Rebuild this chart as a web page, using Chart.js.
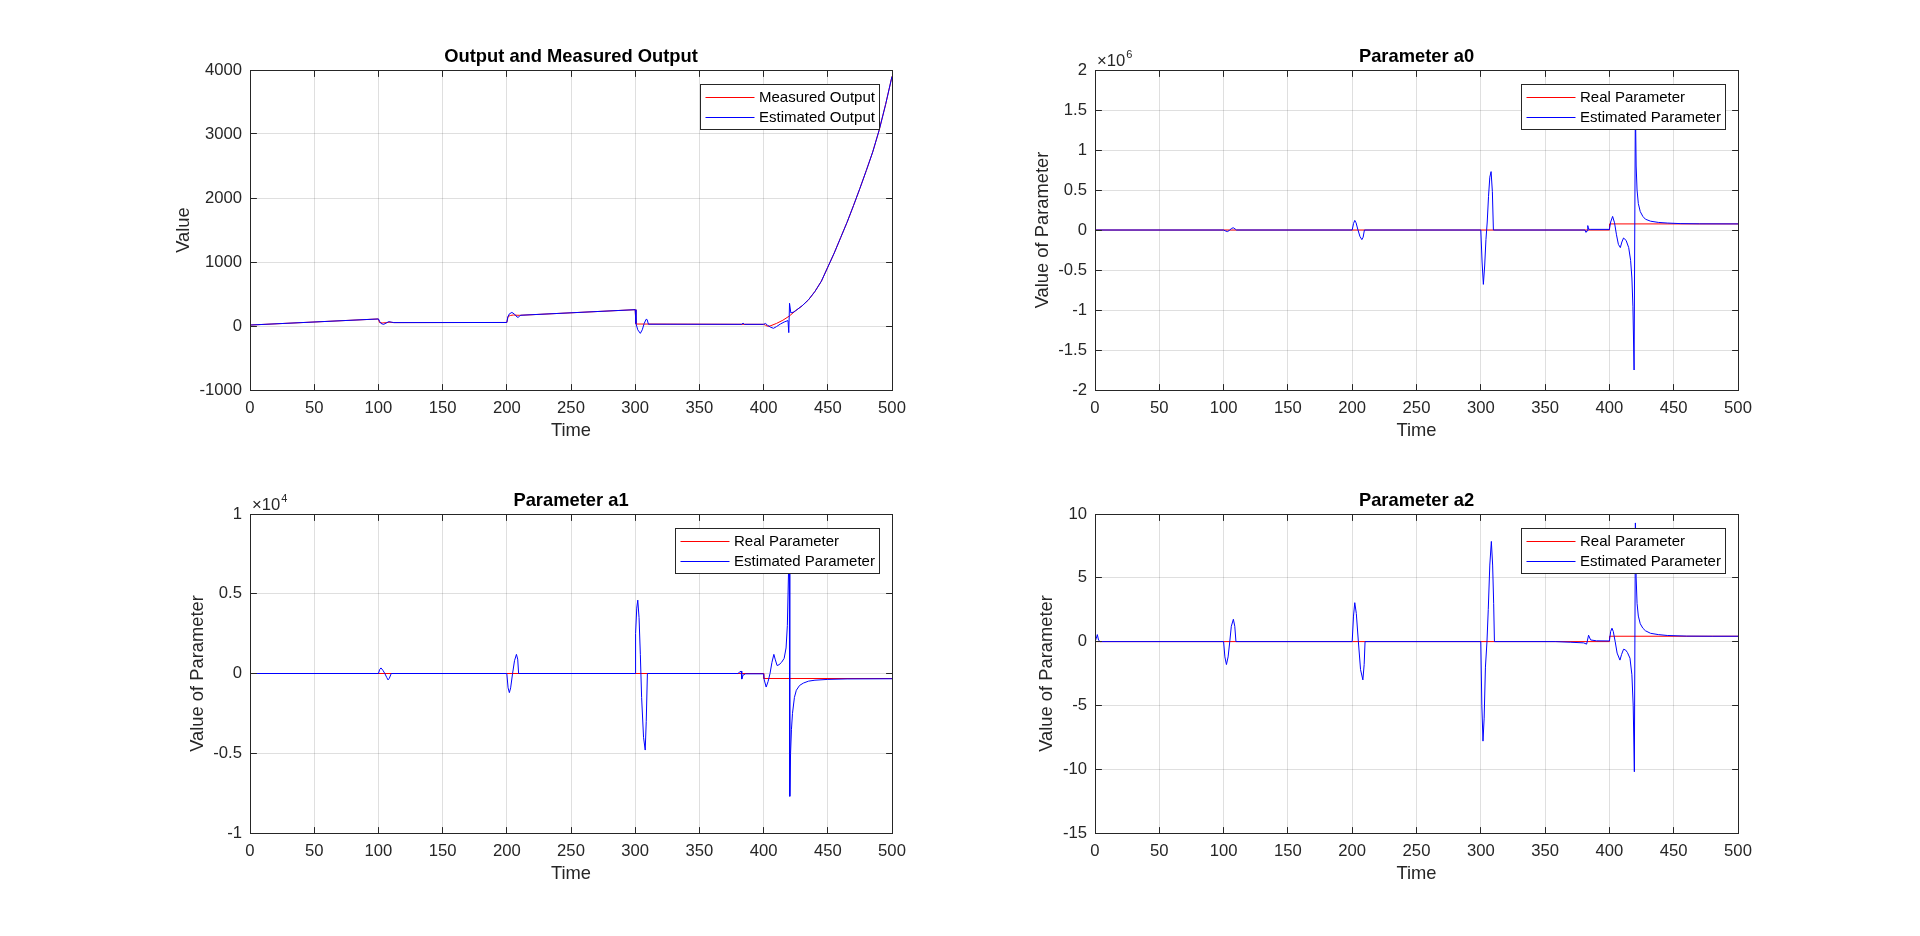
<!DOCTYPE html>
<html lang="en">
<head>
<meta charset="utf-8">
<title>Output and Parameter Estimates</title>
<script src="https://cdn.jsdelivr.net/npm/chart.js@4.4.1/dist/chart.umd.min.js"></script>
<style>
    html, body { margin: 0; padding: 0; background: #ffffff; }
    body { width: 1920px; height: 936px; position: relative; overflow: hidden; }
    .panel { position: absolute; }
    .panel canvas { display: block; }
</style>
</head>
<body>
<div class="panel" id="panelOutput"><canvas></canvas></div>
<div class="panel" id="panelA0"><canvas></canvas></div>
<div class="panel" id="panelA1"><canvas></canvas></div>
<div class="panel" id="panelA2"><canvas></canvas></div>

<script>
// ============================================
// DATA
// ============================================

const timeTicks = [0, 50, 100, 150, 200, 250, 300, 350, 400, 450, 500];

const outputTicks = [-1000, 0, 1000, 2000, 3000, 4000];
const outputTickLabels = ['-1000', '0', '1000', '2000', '3000', '4000'];
const a0Ticks = [-2e6, -1.5e6, -1e6, -0.5e6, 0, 0.5e6, 1e6, 1.5e6, 2e6];
const a0TickLabels = ['-2', '-1.5', '-1', '-0.5', '0', '0.5', '1', '1.5', '2'];
const a1Ticks = [-1e4, -0.5e4, 0, 0.5e4, 1e4];
const a1TickLabels = ['-1', '-0.5', '0', '0.5', '1'];
const a2Ticks = [-15, -10, -5, 0, 5, 10];
const a2TickLabels = ['-15', '-10', '-5', '0', '5', '10'];

// [time, value]
const measuredOutput = [
    [0, 15], [100, 110], [100.8, 55], [103, 48], [106, 52], [109, 60], [112, 53],
    [200, 55], [201, 150], [203, 165], [205, 172], [208, 168], [210, 167],
    [300, 255], [300.5, 31], [400, 26], [401.5, 12], [403, -3], [405, 0],
    [410, 40], [415, 90], [420, 155], [425, 240], [430, 315], [435, 410],
    [440, 540], [445, 700], [450, 920], [455, 1140], [460, 1380], [465, 1620],
    [470, 1880], [475, 2150], [480, 2430], [485, 2720], [490, 3060], [495, 3460], [500, 3900]
];
const estimatedOutput = [
    [0, 15], [100, 110], [101, 70], [102, 40], [104, 25], [106, 45], [108, 68], [110, 60], [112, 53],
    [200, 55], [200.8, 140], [202, 190], [204, 212], [206, 185], [208, 140], [209, 135], [210, 160], [211, 168],
    [300, 255], [300.6, 40], [302, -60], [304, -115], [305.5, -60], [307, 40], [308.5, 105], [309.3, 100], [310.3, 28],
    [383, 26], [384, 45], [385, 26], [400, 26], [401.5, 40], [403, 12], [405.5, -20], [407.7, -36],
    [410, -10], [413, 30], [416, 62], [419, 85], [419.6, -104], [420.2, 355], [421.2, 205], [423, 215],
    [425, 240], [430, 315], [435, 410], [440, 540], [445, 700], [450, 920], [455, 1140], [460, 1380],
    [465, 1620], [470, 1880], [475, 2150], [480, 2430], [485, 2720], [490, 3060], [495, 3460], [500, 3900]
];

const realA0 = [[0, 0], [400, 0], [400.1, 76000], [500, 76000]];
const estimatedA0 = [
    [0, 0], [100, 0], [101.5, -12000], [103, -20000], [104.5, -5000], [106, 18000], [107.5, 28000], [109, 12000], [110, 0],
    [200, 0], [201, 80000], [202, 120000], [203, 90000], [204.5, 0], [206, -80000], [207.5, -120000], [208.5, -90000], [209.5, 0],
    [300, 0], [301, -400000], [302, -680000], [303, -450000], [304, -120000], [305, 100000], [306, 420000],
    [307, 660000], [308, 730000], [309, 480000], [309.8, 0],
    [381, 0], [381.8, -30000], [382.6, -10000], [383.2, 55000], [383.8, 10000], [385, 8000], [400, 8000],
    [401, 100000], [402.5, 170000], [404, 90000], [405.5, -60000], [407, -180000], [408.5, -220000],
    [409.7, -150000], [411, -100000], [413, -130000], [415, -220000], [416.5, -380000], [417.5, -600000],
    [418.3, -960000], [419.2, -1750000], [420.2, 1600000], [420.8, 800000], [421.5, 500000], [422.5, 330000],
    [424, 230000], [426, 170000], [428, 135000], [432, 110000], [438, 95000], [445, 87000], [455, 80000],
    [470, 77000], [500, 76000]
];

const realA1 = [[0, 0], [400, 0], [400.1, -314], [500, -314]];
const estimatedA1 = [
    [0, 0], [100, 0], [101, 250], [102, 350], [103.5, 200], [105, 0], [106.5, -250], [107.5, -400], [108.5, -300], [110, 0],
    [200, 0], [201, -900], [202, -1200], [203, -900], [204.5, 0], [206, 800], [207.5, 1200], [208.5, 900], [209.2, 0],
    [300, 0], [300.3, 2500], [301.2, 4100], [302, 4600], [303, 3500], [304, 1200], [305, -1500], [306.5, -4000],
    [307.8, -4800], [308.6, -3000], [309.5, 0],
    [380, 0], [381.5, 100], [382.5, 150], [383, -350], [384, -100], [386, -20], [400, -20],
    [400.5, -400], [402, -850], [403.5, -500], [405, 0], [406.5, 700], [408, 1200], [409, 900], [410.5, 500],
    [412, 550], [414, 700], [416, 950], [417.5, 1600], [418.5, 3000], [419.4, 6300], [420, 8000], [420.4, -7700],
    [421, -5000], [421.7, -3500], [422.5, -2500], [424, -1500], [425.5, -1050], [428, -750], [431, -600],
    [435, -480], [440, -420], [450, -370], [465, -340], [500, -330]
];

const realA2 = [[0, 0], [400, 0], [400.1, 0.42], [500, 0.42]];
const estimatedA2 = [
    [0, 0], [1, 0.25], [1.8, 0.55], [2.8, 0.1], [4, 0],
    [100, 0], [101, -1.2], [102.2, -1.8], [103.5, -1.2], [104.8, 0], [106, 1.2], [107.6, 1.75], [108.7, 1.2], [109.6, 0],
    [200, 0], [201, 2.0], [202, 3.05], [203.2, 2.2], [204.8, 0], [206.5, -2.2], [208.3, -3.0], [209.3, -1.8], [210, 0],
    [300, 0], [300.8, -5], [301.7, -7.8], [302.6, -6], [303.6, -2], [304.8, 0], [305.8, 2.5], [307, 6],
    [308.2, 7.85], [309.2, 6], [310, 3], [310.6, 0],
    [358, 0], [370, -0.05], [380, -0.1], [382.3, -0.2], [383.8, 0.5], [385.4, 0.13], [390, 0.06], [400, 0.05],
    [401, 0.8], [402, 1.05], [403, 0.8], [404.5, 0], [406, -0.9], [408.2, -1.45], [409.5, -1.0], [411, -0.6],
    [412.5, -0.65], [414, -0.85], [416, -1.3], [417.5, -2.6], [418.5, -5], [419.4, -10.2], [420.2, 9.3],
    [420.8, 5], [421.5, 3], [422.5, 2], [424, 1.4], [426, 1.05], [428, 0.85], [432, 0.65], [438, 0.55],
    [445, 0.48], [460, 0.43], [480, 0.42], [500, 0.42]
];

// ============================================
// LAYOUT / STYLE
// ============================================

const FONT = '"Liberation Sans", Arial, Helvetica, sans-serif';
const AXIS_COLOR = '#262626';
const GRID_COLOR = 'rgba(38, 38, 38, 0.15)';
const RED = '#ff0000';
const BLUE = '#0000ff';
const AXIS_W = 110;   // room left of the plot box
const TITLE_H = 48;   // room above the plot box
const XAXIS_H = 70;   // room below the plot box
const PAD_R = 40;

document.addEventListener('DOMContentLoaded', () => {
    Chart.defaults.font.family = FONT;
    Chart.defaults.color = AXIS_COLOR;

    createPanel({
        id: 'panelOutput', area: [250, 70, 642, 320],
        title: 'Output and Measured Output', yTitle: 'Value', yTitleGap: 33,
        names: ['Measured Output', 'Estimated Output'],
        real: measuredOutput, est: estimatedOutput,
        yTicks: outputTicks, yLabels: outputTickLabels, exponent: null
    });
    createPanel({
        id: 'panelA0', area: [1095, 70, 643, 320],
        title: 'Parameter a0', yTitle: 'Value of Parameter', yTitleGap: 47,
        names: ['Real Parameter', 'Estimated Parameter'],
        real: realA0, est: estimatedA0,
        yTicks: a0Ticks, yLabels: a0TickLabels, exponent: '6'
    });
    createPanel({
        id: 'panelA1', area: [250, 514, 642, 319],
        title: 'Parameter a1', yTitle: 'Value of Parameter', yTitleGap: 47,
        names: ['Real Parameter', 'Estimated Parameter'],
        real: realA1, est: estimatedA1,
        yTicks: a1Ticks, yLabels: a1TickLabels, exponent: '4'
    });
    createPanel({
        id: 'panelA2', area: [1095, 514, 643, 319],
        title: 'Parameter a2', yTitle: 'Value of Parameter', yTitleGap: 51,
        names: ['Real Parameter', 'Estimated Parameter'],
        real: realA2, est: estimatedA2,
        yTicks: a2Ticks, yLabels: a2TickLabels, exponent: null
    });
});

function alignPx(p) {
    return Math.round(p - 0.5) + 0.5;
}

// box, inward ticks, x10^n and the legend, all drawn over the lines like MATLAB does
function matlabDecor(cfg) {
    return {
        id: 'matlabDecor',
        afterDatasetsDraw(chart) {
            const { ctx, chartArea: a, scales } = chart;
            const L = alignPx(a.left), R = alignPx(a.right), T = alignPx(a.top), B = alignPx(a.bottom);
            const tick = 6.4;

            ctx.save();
            ctx.strokeStyle = AXIS_COLOR;
            ctx.lineWidth = 1;
            ctx.beginPath();
            scales.x.ticks.forEach(t => {
                const px = alignPx(scales.x.getPixelForValue(t.value));
                ctx.moveTo(px, B); ctx.lineTo(px, B - tick);
                ctx.moveTo(px, T); ctx.lineTo(px, T + tick);
            });
            scales.y.ticks.forEach(t => {
                const py = alignPx(scales.y.getPixelForValue(t.value));
                ctx.moveTo(L, py); ctx.lineTo(L + tick, py);
                ctx.moveTo(R, py); ctx.lineTo(R - tick, py);
            });
            ctx.stroke();
            ctx.strokeRect(L, T, R - L, B - T);

            if (cfg.exponent) {
                ctx.fillStyle = AXIS_COLOR;
                ctx.textBaseline = 'alphabetic';
                ctx.textAlign = 'left';
                ctx.font = '16.67px ' + FONT;
                const base = '\u00d710';
                ctx.fillText(base, a.left + 2, a.top - 4);
                const w = ctx.measureText(base).width;
                ctx.font = '11px ' + FONT;
                ctx.fillText(cfg.exponent, a.left + 2 + w + 1, a.top - 12);
            }

            // legend box
            ctx.font = '15px ' + FONT;
            const textW = Math.max(...cfg.names.map(n => ctx.measureText(n).width));
            const boxW = Math.round(5.5 + 49 + 4.5 + textW + 4);
            const boxH = 45;
            const left = Math.round(a.right - 13.5 - boxW);
            const top = Math.round(a.top + 13.5);
            ctx.fillStyle = '#ffffff';
            ctx.fillRect(left, top, boxW, boxH);
            ctx.strokeStyle = AXIS_COLOR;
            ctx.strokeRect(left + 0.5, top + 0.5, boxW, boxH);
            [RED, BLUE].forEach((color, i) => {
                const y = Math.round(top + 13.3 + 20 * i) + 0.5;
                ctx.strokeStyle = color;
                ctx.beginPath();
                ctx.moveTo(left + 5.5, y);
                ctx.lineTo(left + 54.5, y);
                ctx.stroke();
                ctx.fillStyle = '#000000';
                ctx.textBaseline = 'middle';
                ctx.fillText(cfg.names[i], left + 59, y);
            });
            ctx.restore();
        }
    };
}

function createPanel(cfg) {
    const wrap = document.getElementById(cfg.id);
    const [l, t, w, h] = cfg.area;
    wrap.style.left = (l - AXIS_W) + 'px';
    wrap.style.top = (t - TITLE_H) + 'px';
    wrap.style.width = (w + AXIS_W + PAD_R) + 'px';
    wrap.style.height = (h + TITLE_H + XAXIS_H) + 'px';

    const yTicks = cfg.yTicks;

    new Chart(wrap.querySelector('canvas'), {
        type: 'line',
        data: {
            datasets: [
                { label: cfg.names[0], data: cfg.real, borderColor: RED, order: 1 },
                { label: cfg.names[1], data: cfg.est, borderColor: BLUE, order: 0 }
            ]
        },
        options: {
            responsive: true,
            maintainAspectRatio: false,
            animation: false,
            events: [],
            elements: {
                line: { borderWidth: 1, tension: 0, fill: false },
                point: { radius: 0 }
            },
            layout: { padding: { left: 0, top: 0, right: PAD_R, bottom: 0 } },
            scales: {
                x: {
                    type: 'linear',
                    min: 0,
                    max: 500,
                    afterBuildTicks: s => { s.ticks = timeTicks.map(v => ({ value: v })); },
                    afterFit: s => { s.height = XAXIS_H; s.paddingLeft = 0; s.paddingRight = 0; },
                    grid: { color: GRID_COLOR, lineWidth: 1, drawTicks: false },
                    border: { display: false },
                    ticks: {
                        padding: 8, autoSkip: false, maxRotation: 0,
                        font: { size: 16.67 }, color: AXIS_COLOR,
                        callback: v => String(v)
                    },
                    title: {
                        display: true, text: 'Time', color: AXIS_COLOR,
                        font: { size: 18.33, lineHeight: '22px' },
                        padding: { top: 0, bottom: 18 }
                    }
                },
                y: {
                    type: 'linear',
                    min: yTicks[0],
                    max: yTicks[yTicks.length - 1],
                    afterBuildTicks: s => { s.ticks = yTicks.map(v => ({ value: v })); },
                    afterFit: s => { s.width = AXIS_W; s.paddingTop = 0; s.paddingBottom = 0; },
                    grid: { color: GRID_COLOR, lineWidth: 1, drawTicks: false },
                    border: { display: false },
                    ticks: {
                        padding: 8, autoSkip: false,
                        font: { size: 16.67 }, color: AXIS_COLOR,
                        callback: (v, i) => cfg.yLabels[i]
                    },
                    title: {
                        display: true, text: cfg.yTitle, color: AXIS_COLOR,
                        font: { size: 18.33, lineHeight: '22px' },
                        padding: { top: cfg.yTitleGap, bottom: 0 }
                    }
                }
            },
            plugins: {
                legend: { display: false },
                tooltip: { enabled: false },
                title: {
                    display: true, fullSize: false, text: cfg.title, color: '#000000',
                    font: { size: 18.33, weight: 'bold', lineHeight: '22px' },
                    padding: { top: 24, bottom: 2 }
                }
            }
        },
        plugins: [matlabDecor(cfg)]
    });
}
</script>
</body>
</html>
